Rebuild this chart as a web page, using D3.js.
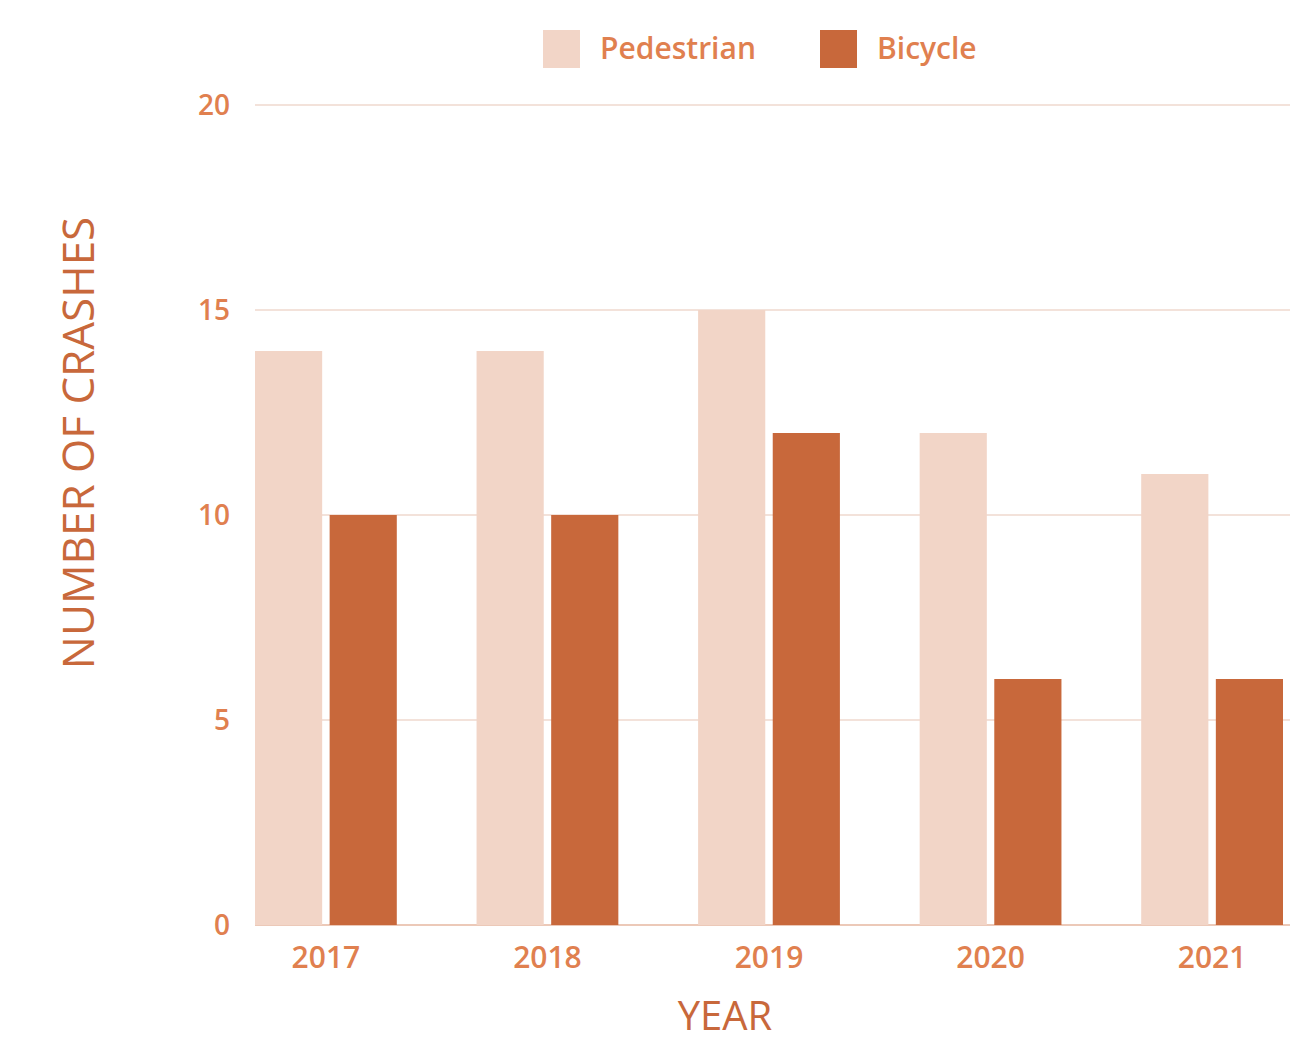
<!DOCTYPE html>
<html>
<head>
<meta charset="utf-8">
<script src="https://cdn.jsdelivr.net/npm/d3@7"></script>
<style>
  body { margin: 0; background: #fff; }
  text { font-family: "Open Sans", sans-serif; }
</style>
</head>
<body>
<script>
// data
var years = ["2017", "2018", "2019", "2020", "2021"];
var seriesNames = ["Pedestrian", "Bicycle"];
var pedestrian = [14, 14, 15, 12, 11];
var bicycle = [10, 10, 12, 6, 6];
var yTicks = [0, 5, 10, 15, 20];

var colors = { "Pedestrian": "#f2d5c7", "Bicycle": "#c8683b" };

var svg = d3.select("body").append("svg")
    .attr("width", 1312)
    .attr("height", 1042);

var x0 = d3.scaleBand().domain(years).range([255, 1283]).paddingInner(0.36).paddingOuter(0);
var x1 = d3.scaleBand().domain(seriesNames).range([0, x0.bandwidth()]).paddingInner(0.1);
var y = d3.scaleLinear().domain([0, 20]).range([925, 105]);

// gridlines
svg.append("g").selectAll("line").data(yTicks).enter().append("line")
    .attr("x1", 255).attr("x2", 1290)
    .attr("y1", function(d){ return y(d); })
    .attr("y2", function(d){ return y(d); })
    .style("stroke", function(d){ return d == 0 ? "#ecc9b8" : "#f3e2da"; })
    .style("stroke-width", 2);

// y tick labels
svg.append("g").selectAll("text").data(yTicks).enter().append("text")
    .attr("x", 230)
    .attr("y", function(d){ return y(d) + 10; })
    .attr("text-anchor", "end")
    .style("font-size", "28px")
    .style("font-weight", 600)
    .style("fill", "#e0804f")
    .text(function(d){ return d; });

// bars
var rows = years.map(function(yr, i){
  return { year: yr, vals: [
    { key: "Pedestrian", value: pedestrian[i] },
    { key: "Bicycle", value: bicycle[i] } ] };
});

var groups = svg.append("g").selectAll("g").data(rows).enter().append("g")
    .attr("transform", function(d){ return "translate(" + x0(d.year) + ",0)"; });

groups.selectAll("rect").data(function(d){ return d.vals; }).enter().append("rect")
    .attr("x", function(d){ return x1(d.key); })
    .attr("y", function(d){ return y(d.value); })
    .attr("width", x1.bandwidth())
    .attr("height", function(d){ return y(0) - y(d.value); })
    .style("fill", function(d){ return colors[d.key]; });

// x labels
svg.append("g").selectAll("text").data(years).enter().append("text")
    .attr("x", function(d){ return x0(d) + x0.bandwidth() / 2; })
    .attr("y", 968)
    .attr("text-anchor", "middle")
    .style("font-size", "30px")
    .style("font-weight", 600)
    .style("fill", "#e0804f")
    .text(function(d){ return d; });

// axis titles
svg.append("text")
    .attr("x", 725).attr("y", 1030)
    .attr("text-anchor", "middle")
    .style("font-size", "40px")
    .style("fill", "#c8683b")
    .text("YEAR");

svg.append("text")
    .attr("transform", "translate(94,443) rotate(-90)")
    .attr("text-anchor", "middle")
    .style("font-size", "44px")
    .style("fill", "#c8683b")
    .text("NUMBER OF CRASHES");

// legend
var legX = [543, 820];
var leg = svg.append("g").selectAll("g").data(seriesNames).enter().append("g")
    .attr("transform", function(d, i){ return "translate(" + legX[i] + ",30)"; });
leg.append("rect")
    .attr("width", 37).attr("height", 38)
    .style("fill", function(d){ return colors[d]; });
leg.append("text")
    .attr("x", 57).attr("y", 29)
    .style("font-size", "30px")
    .style("font-weight", 600)
    .style("fill", "#e0804f")
    .text(function(d){ return d; });
</script>
</body>
</html>
